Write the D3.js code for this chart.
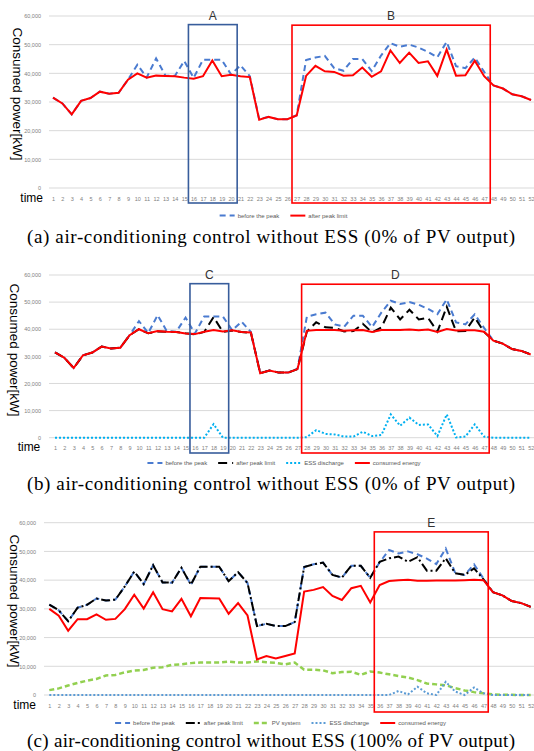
<!DOCTYPE html>
<html>
<head>
<meta charset="utf-8">
<script src="https://cdn.jsdelivr.net/npm/d3@7/dist/d3.min.js"></script>
<style>
  body { margin: 0; background: #fff; }
  svg { display: block; }
</style>
</head>
<body>
<svg id="chart" width="534" height="751"></svg>
<script>
// ---- data (kW) ----
const timeSlots = [1,2,3,4,5,6,7,8,9,10,11,12,13,14,15,16,17,18,19,20,21,22,23,24,25,26,
                   27,28,29,30,31,32,33,34,35,36,37,38,39,40,41,42,43,44,45,46,47,48,49,50,51,52];
const yTicks = [0, 10000, 20000, 30000, 40000, 50000, 60000];

const beforePeak = [31500,29500,25700,30400,31400,33600,32900,33200,37800,43000,38600,45200,39200,
                    39100,44300,38400,44700,44700,44700,39600,42800,39000,24000,24800,24000,24000,
                    25400,44600,45500,46100,41800,40900,45000,45000,40800,46200,50500,49300,50000,
                    49000,47500,45600,51000,42500,41800,45500,40500,35800,34700,32700,32000,30700];

const afterPeakLimit = [31500,29500,25700,30400,31400,33600,32900,33200,37800,40000,38500,39200,39100,
                        39000,38500,38100,39000,44500,39000,39500,39000,38700,23800,24800,24000,24000,
                        25300,39100,42600,40700,40500,39200,39300,42000,38800,40700,48000,43600,47200,
                        43600,44200,39100,48300,39200,39300,44400,39000,35800,34700,32700,32000,30700];

const consumedB = [31500,29500,25700,30400,31400,33600,32900,33200,37800,40000,38500,39300,39100,
                   39000,38400,38200,39100,39700,39200,39600,39000,38800,23800,24800,24000,24000,
                   25300,39400,39700,39700,39700,39400,39600,39700,39000,39700,39700,39700,39900,
                   39600,39900,39000,40100,39500,39600,39600,39100,35800,34700,32700,32000,30700];

const essB = [0,0,0,0,0,0,0,0,0,0,0,0,0,0,0,0,0,5000,0,0,0,0,0,0,0,0,
              0,200,2800,1400,1200,400,400,2200,600,1000,8600,4400,7400,4700,4900,600,8600,100,
              400,4900,400,0,0,0,0,0];

const afterPeakC = [31500,29500,25700,30400,31400,33600,32900,33200,37800,43000,38600,45200,39200,
                    39100,44300,38400,44700,44700,44700,39600,42800,39000,24000,24800,24000,24000,
                    25400,44600,45500,46100,41800,40900,45000,45000,40800,46400,47600,48200,46400,
                    48000,43300,43300,47600,42400,41800,44100,40300,35800,34700,32700,32000,30700];

const consumedC = [30000,27600,22400,26400,26400,28100,26200,26500,29900,34900,30100,35800,29900,
                   29100,33500,27400,33800,33700,33600,28300,32000,27700,12400,13600,12700,13600,
                   14500,36000,36600,37600,34500,33100,37200,38000,32200,38300,39700,40000,40100,
                   39800,39800,39900,39900,39900,40000,40100,40000,35800,34700,32700,32000,30700];

const pvC = [1700,2300,3300,4200,5000,5600,6800,7000,7900,8500,8700,9500,9700,10500,10700,11100,
             11300,11300,11300,11600,11300,11300,11700,11400,11200,10700,11300,8800,8800,8600,
             7600,8000,8100,7000,8200,7800,7200,6600,6100,5200,4000,3700,3400,2400,1600,1000,
             600,200,100,50,0,0];

const essC = [0,0,0,0,0,0,0,0,0,0,0,0,0,0,0,0,0,0,0,0,0,0,0,0,0,0,
              0,0,0,0,0,0,0,0,0,0,0,1400,200,2900,600,0,4600,1200,0,2600,600,0,0,0,0,0];

// highlight boxes: [label, from slot, to slot, top value]
const boxesA = [["A", 15.45, 20.65, 57000], ["B", 26.5, 47.65, 56800]];
const boxesB = [["C", 15.47, 19.62, 56800], ["D", 27.44, 47.55, 56600]];
const boxesC = [["E", 35.43, 47.5, 56800]];

const captions = ["(a) air-conditioning control without ESS (0% of PV output)",
                  "(b) air-conditioning control without ESS (0% of PV output)",
                  "(c) air-conditioning control without ESS (100% of PV output)"];

// ---- styles ----
const sans = "'Liberation Sans', Arial, sans-serif";
const serif = "'Liberation Serif', 'DejaVu Serif', serif";
const boxColor = { A: "#385d9c", C: "#385d9c", B: "#ff0000", D: "#ff0000", E: "#ff0000" };
const st = {
    before:   { stroke: "#4a7bd0", width: 2,   dash: "6,4" },
    redLine:  { stroke: "#ff0000", width: 2,   dash: null },
    black:    { stroke: "#000000", width: 2,   dash: "9,5" },
    dashDot:  { stroke: "#000000", width: 2,   dash: "9,3,2,3" },
    essB:     { stroke: "#00b0f0", width: 2,   dash: "2,2" },
    essC:     { stroke: "#5b9bd5", width: 2,   dash: "2,2" },
    pv:       { stroke: "#92d050", width: 2.5, dash: "5,3" }
};

// panel layouts
const panels = [
    { y0: 188, yTop: 16, xRange: [48.3, 535.7], gridX0: 49, tickRight: 41, tickBase: 200.5,
      timeRight: 43, timeBase: 202, legendY: 215.6, legendCx: 283.5, captionBase: 243,
      titleX: 12.5, titleY: 94, boxBottom: 203, boxes: boxesA, caption: captions[0],
      series: [
          { label: "before the peak", values: beforePeak, style: st.before },
          { label: "after peak limit", values: afterPeakLimit, style: st.redLine }
      ],
      legendOrder: [0, 1] },
    { y0: 437.7, yTop: 275, xRange: [50.34, 535.36], gridX0: 49, tickRight: 41, tickBase: 449.7,
      timeRight: 40.3, timeBase: 451, legendY: 463, legendCx: 284, captionBase: 490,
      titleX: 10, titleY: 350, boxBottom: 453, boxes: boxesB, caption: captions[1],
      series: [
          { label: "before the peak", values: beforePeak, style: st.before },
          { label: "after peak limit", values: afterPeakLimit, style: st.black },
          { label: "ESS discharge", values: essB, style: st.essB },
          { label: "consumed energy", values: consumedB, style: st.redLine }
      ],
      legendOrder: [0, 1, 2, 3] },
    { y0: 695, yTop: 522.7, xRange: [44.58, 535.42], gridX0: 44, tickRight: 36, tickBase: 707.8,
      timeRight: 36, timeBase: 709, legendY: 723, legendCx: 280.5, captionBase: 747,
      titleX: 10, titleY: 601, boxBottom: 712, boxes: boxesC, caption: captions[2],
      series: [
          { label: "PV system", values: pvC, style: st.pv },
          { label: "ESS discharge", values: essC, style: st.essC },
          { label: "before the peak", values: beforePeak, style: st.before },
          { label: "after peak limit", values: afterPeakC, style: st.dashDot },
          { label: "consumed energy", values: consumedC, style: st.redLine }
      ],
      legendOrder: [2, 3, 0, 1, 4] }
];

const svg = d3.select("#chart");

function applyStyle(sel, s) {
    sel.attr("fill", "none")
        .attr("stroke", s.stroke)
        .attr("stroke-width", s.width)
        .attr("stroke-dasharray", s.dash);
}

function drawPanel(p) {
    let g = svg.append("g");

    let x = d3.scalePoint().domain(timeSlots).range(p.xRange).padding(0.5);
    let xLin = d3.scaleLinear().domain([1, 52]).range([x(1), x(52)]);
    let y = d3.scaleLinear().domain([0, 60000]).range([p.y0, p.yTop]);

    // gridlines
    g.selectAll("line.grid")
        .data(yTicks)
        .enter().append("line")
        .attr("x1", p.gridX0).attr("x2", 534)
        .attr("y1", d => y(d)).attr("y2", d => y(d))
        .attr("stroke", "#d9d9d9").attr("stroke-width", 1);

    // y axis labels
    let yAxis = g.append("g")
        .attr("transform", "translate(" + p.tickRight + ",0)")
        .call(d3.axisLeft(y).tickValues(yTicks).tickSize(0).tickPadding(0).tickFormat(d3.format(",")));
    yAxis.select("path").remove();
    yAxis.selectAll("text")
        .style("font-family", sans).style("font-size", "5.5px").attr("fill", "#808080");

    // x axis labels
    let xAxis = g.append("g")
        .attr("transform", "translate(0," + (p.tickBase - 5.5 * 0.71) + ")")
        .call(d3.axisBottom(x).tickSize(0).tickPadding(0));
    xAxis.select("path").remove();
    xAxis.selectAll("text")
        .style("font-family", sans).style("font-size", "5.5px").attr("fill", "#808080");

    g.append("text")
        .attr("x", p.timeRight).attr("y", p.timeBase)
        .attr("text-anchor", "end")
        .style("font-family", sans).style("font-size", "12px")
        .attr("fill", "#000")
        .text("time");

    // y title
    g.append("text")
        .attr("transform", "translate(" + p.titleX + "," + p.titleY + ") rotate(90)")
        .attr("text-anchor", "middle")
        .style("font-family", sans).style("font-size", "13.5px")
        .attr("fill", "#000")
        .text("Consumed power[kW]");

    // series
    let line = d3.line()
        .x((d, i) => x(timeSlots[i]))
        .y(d => y(d));
    p.series.forEach(function(s) {
        g.append("path")
            .attr("d", line(s.values))
            .attr("stroke-linejoin", "miter")
            .call(applyStyle, s.style);
    });

    // highlight boxes + letters
    p.boxes.forEach(function(b) {
        let x1 = xLin(b[1]), x2 = xLin(b[2]), top = y(b[3]);
        g.append("rect")
            .attr("x", x1).attr("y", top)
            .attr("width", x2 - x1).attr("height", p.boxBottom - top)
            .attr("fill", "none")
            .attr("stroke", boxColor[b[0]]).attr("stroke-width", 1.6);
        g.append("text")
            .attr("x", (x1 + x2) / 2).attr("y", top - 5)
            .attr("text-anchor", "middle")
            .style("font-family", sans).style("font-size", "12px")
            .attr("fill", "#333")
            .text(b[0]);
    });

    // legend
    let lg = g.append("g");
    let cursor = 0;
    p.legendOrder.forEach(function(k) {
        let s = p.series[k];
        lg.append("line")
            .attr("x1", cursor).attr("x2", cursor + 15)
            .attr("y1", 0).attr("y2", 0)
            .call(applyStyle, s.style);
        let t = lg.append("text")
            .attr("x", cursor + 18).attr("y", 2)
            .style("font-family", sans).style("font-size", "6px")
            .attr("fill", "#595959")
            .text(s.label);
        cursor += 18 + t.node().getComputedTextLength() + 11;
    });
    cursor -= 11;
    lg.attr("transform", "translate(" + (p.legendCx - cursor / 2) + "," + p.legendY + ")");

    // caption
    g.append("text")
        .attr("x", 27).attr("y", p.captionBase)
        .attr("textLength", 488).attr("lengthAdjust", "spacing")
        .style("font-family", serif).style("font-size", "19px")
        .attr("fill", "#000")
        .text(p.caption);
}

panels.forEach(drawPanel);
</script>
</body>
</html>
